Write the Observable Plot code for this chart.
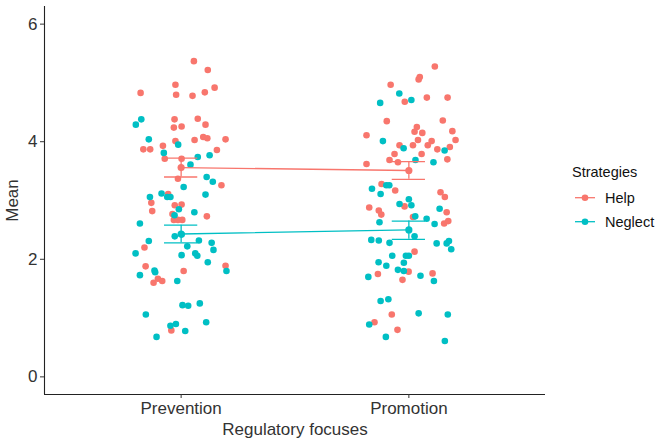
<!DOCTYPE html>
<html>
<head>
<meta charset="utf-8">
<script src="https://cdn.jsdelivr.net/npm/d3@7"></script>
<script src="https://cdn.jsdelivr.net/npm/@observablehq/plot@0.6"></script>
<style>
  html, body { margin: 0; padding: 0; background: #fff; }
  #wrap { position: relative; width: 661px; height: 445px; font-family: "Liberation Sans", Arial, sans-serif; }
  #legend { position: absolute; left: 566px; top: 158px; }
</style>
</head>
<body>
<div id="wrap"><div id="chart"></div><div id="legend"></div></div>
<script>
// ---- data ----
const categories = ["Prevention", "Promotion"];
const strategies = ["Help", "Neglect"];
const colors = ["#F8766D", "#00BFC4"];

// individual observations (Mean) and their horizontal jitter (in category units)
const preventionHelp = [5.37,5.22,4.97,4.83,4.80,4.78,4.84,4.92,4.38,4.39,4.24,4.26,4.29,4.01,4.03,4.08,4.06,4.04,3.93,3.87,3.87,3.86,3.71,3.71,3.37,3.26,3.11,2.96,2.92,2.93,2.82,2.77,2.73,2.67,2.67,2.67,2.20,1.88,1.89,1.80,1.67,1.63,1.60,0.79];
const preventionHelpJitter = [0.056,0.117,-0.025,-0.178,-0.022,0.050,0.104,0.147,-0.029,0.073,-0.032,0.002,0.107,-0.025,0.059,0.097,0.115,0.195,-0.080,-0.166,-0.136,0.157,-0.072,0.002,-0.014,0.177,-0.057,-0.131,-0.028,0.002,-0.127,-0.038,0.113,-0.032,-0.014,0.005,-0.161,-0.156,0.195,0.011,-0.102,-0.083,-0.121,-0.043];

const preventionNeglect = [4.38,4.29,4.04,3.95,3.81,3.74,3.77,3.61,3.40,3.32,3.23,3.06,3.12,3.06,3.06,3.10,2.85,2.80,2.75,2.61,2.39,2.42,2.31,2.32,2.28,2.22,2.16,2.10,2.07,2.10,2.06,1.95,1.80,1.81,1.78,1.73,1.63,1.22,1.21,1.25,1.06,0.87,0.90,0.78,0.93,0.68];
const preventionNeglectJitter = [-0.175,-0.199,-0.142,-0.013,-0.076,0.073,0.125,0.041,0.112,0.139,0.011,-0.137,-0.086,-0.061,-0.047,0.107,-0.010,0.058,-0.029,-0.181,-0.028,0.002,-0.142,0.078,0.134,0.027,0.142,-0.200,0.002,0.062,0.071,0.117,0.199,-0.117,-0.114,-0.181,-0.017,0.006,0.031,0.082,-0.155,-0.047,-0.023,0.018,0.110,-0.108];

const promotionHelp = [5.28,5.10,5.06,4.97,4.75,4.75,4.68,4.35,4.36,4.25,4.17,4.15,4.18,4.11,4.03,4.03,3.94,4.01,3.94,3.94,3.87,3.91,3.79,3.79,3.69,3.65,3.62,3.70,3.28,3.17,3.14,3.06,2.88,2.83,2.76,2.90,2.80,2.72,2.61,2.65,2.13,1.79,1.76,1.75,1.65,1.06,0.93,0.80];
const promotionHelpJitter = [0.114,0.048,0.043,-0.080,0.079,0.170,-0.018,-0.097,0.149,0.035,0.025,0.059,0.191,-0.186,0.205,0.040,0.018,0.100,0.083,-0.041,0.125,0.180,-0.063,0.056,-0.085,-0.048,-0.186,0.169,-0.120,-0.060,0.139,0.158,-0.174,-0.132,-0.121,-0.019,0.166,0.018,0.155,0.173,0.025,-0.001,0.104,-0.136,-0.028,-0.075,-0.151,-0.050];

const promotionNeglect = [4.82,4.66,4.71,4.01,3.89,3.85,3.69,3.65,3.26,3.26,3.20,3.11,3.02,2.94,2.92,2.86,2.73,2.69,2.60,2.63,2.39,2.33,2.32,2.28,2.27,2.27,2.31,2.17,2.06,2.06,2.06,1.95,1.89,1.94,1.82,1.80,1.70,1.72,1.63,1.29,1.32,1.08,1.06,0.89,0.68,0.61];
const promotionNeglectJitter = [-0.042,-0.126,0.011,-0.114,-0.023,0.157,0.029,0.108,-0.099,-0.086,-0.162,-0.124,0.000,-0.041,0.011,0.135,0.028,0.078,0.113,-0.129,0.025,-0.165,-0.132,-0.085,0.122,0.166,0.176,0.186,-0.073,-0.013,0.000,-0.133,-0.099,-0.022,-0.048,-0.022,-0.178,0.051,0.110,-0.124,-0.090,0.043,0.171,-0.174,-0.101,0.158];

// group means and error-bar limits [Prevention, Promotion]
const helpMeans = [3.56, 3.51];
const helpLower = [3.40, 3.36];
const helpUpper = [3.72, 3.66];
const neglectMeans = [2.43, 2.50];
const neglectLower = [2.28, 2.34];
const neglectUpper = [2.58, 2.65];

const yTicks = [0, 2, 4, 6];
const xLabel = "Regulatory focuses";
const yLabel = "Mean";
const legendTitle = "Strategies";

// ---- build tables ----
const groups = [
  [preventionHelp, preventionHelpJitter, 0, "Help"],
  [preventionNeglect, preventionNeglectJitter, 0, "Neglect"],
  [promotionHelp, promotionHelpJitter, 1, "Help"],
  [promotionNeglect, promotionNeglectJitter, 1, "Neglect"]
];
const points = [];
for (const [vals, jit, ci, s] of groups) {
  vals.forEach((v, i) => points.push({x: ci + 1 + jit[i], y: v, strategy: s}));
}
const summary = [];
categories.forEach((c, i) => {
  summary.push({x: i + 1, mean: helpMeans[i], lo: helpLower[i], hi: helpUpper[i], strategy: "Help"});
  summary.push({x: i + 1, mean: neglectMeans[i], lo: neglectLower[i], hi: neglectUpper[i], strategy: "Neglect"});
});

const xDomain = [0.4, categories.length + 0.6];
const yDomain = [-0.3, 6.3];
const capHalf = 0.073;

const chart = Plot.plot({
  width: 661,
  height: 445,
  marginLeft: 44,
  marginRight: 116,
  marginTop: 6,
  marginBottom: 51,
  style: {fontFamily: "'Liberation Sans', Arial, sans-serif", fontSize: "17px", color: "#333", background: "#fff"},
  x: {domain: xDomain, axis: null},
  y: {domain: yDomain, axis: null},
  color: {domain: strategies, range: colors},
  marks: [
    Plot.dot(points, {x: "x", y: "y", fill: "strategy", r: 3.3}),
    Plot.line(summary, {x: "x", y: "mean", stroke: "strategy", z: "strategy", strokeWidth: 1.3}),
    Plot.ruleX(summary, {x: "x", y1: "lo", y2: "hi", stroke: "strategy", strokeWidth: 1.3}),
    Plot.ruleY(summary, {y: "lo", x1: d => d.x - capHalf, x2: d => d.x + capHalf, stroke: "strategy", strokeWidth: 1.3}),
    Plot.ruleY(summary, {y: "hi", x1: d => d.x - capHalf, x2: d => d.x + capHalf, stroke: "strategy", strokeWidth: 1.3}),
    Plot.dot(summary, {x: "x", y: "mean", fill: "strategy", r: 3.6}),
    Plot.ruleX([xDomain[0]], {y1: yDomain[0], y2: yDomain[1], stroke: "#222", strokeWidth: 1.1}),
    Plot.ruleY([yDomain[0]], {x1: xDomain[0], x2: xDomain[1], stroke: "#222", strokeWidth: 1.1}),
    Plot.axisX({ticks: categories.map((c, i) => i + 1), tickFormat: d => categories[d - 1], tickSize: 4, tickPadding: 3,
      fontSize: 17, label: xLabel, labelAnchor: "center", labelArrow: "none", labelOffset: 40}),
    Plot.axisY({ticks: yTicks, tickFormat: d => String(d), tickSize: 4, tickPadding: 3, fontSize: 17, label: yLabel, labelAnchor: "center", labelArrow: "none", labelOffset: 39})
  ]
});
document.getElementById("chart").appendChild(chart);

// ---- legend ----
const lg = d3.select("#legend").append("svg").attr("width", 95).attr("height", 80)
  .style("font-family", "'Liberation Sans', Arial, sans-serif");
lg.append("text").attr("x", 6).attr("y", 18.7).attr("font-size", 14.5).attr("fill", "#111").text(legendTitle);
strategies.forEach((s, i) => {
  const cy = 39.7 + i * 24;
  lg.append("line").attr("x1", 9).attr("x2", 29).attr("y1", cy).attr("y2", cy).attr("stroke", colors[i]).attr("stroke-width", 1.3);
  lg.append("circle").attr("cx", 19).attr("cy", cy).attr("r", 3.3).attr("fill", colors[i]);
  lg.append("text").attr("x", 39).attr("y", cy + 5.3).attr("font-size", 14.5).attr("fill", "#111").text(s);
});
</script>
</body>
</html>
